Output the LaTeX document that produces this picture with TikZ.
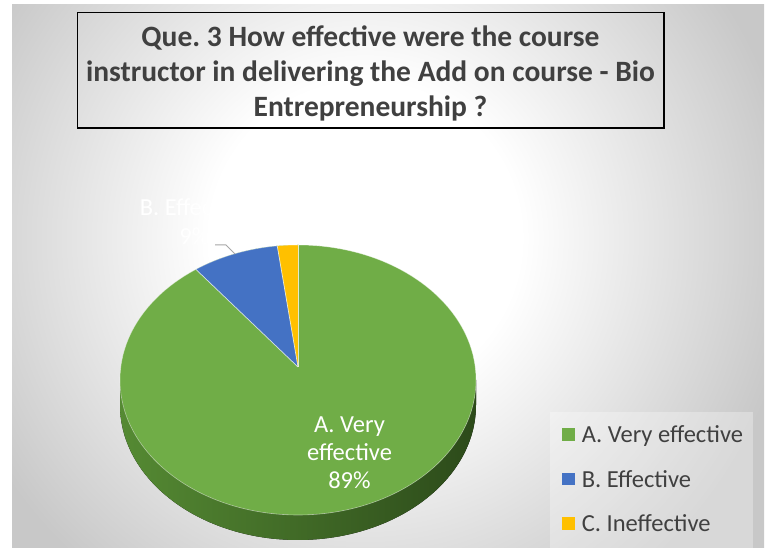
\documentclass[tikz,border=0pt]{standalone}
\usepackage{fontspec}
\setmainfont{Carlito}
\frenchspacing
\definecolor{bggray}{HTML}{C8C8C8}
\definecolor{titlegray}{HTML}{404040}
\definecolor{leggray}{HTML}{404040}
\definecolor{pgreen}{HTML}{70AD47}
\definecolor{pblue}{HTML}{4472C4}
\definecolor{pyellow}{HTML}{FFC000}
\definecolor{sidelight}{HTML}{558A33}
\definecolor{sidemid}{HTML}{2F501C}
\definecolor{sidedark}{HTML}{2C4A1A}
\definecolor{leadergray}{HTML}{A6A6A6}
\pgfdeclareradialshading{bgshade}{\pgfpoint{0bp}{0bp}}{color(0bp)=(white); color(155bp)=(white); color(430bp)=(bggray); color(800bp)=(bggray)}
\begin{document}
\frenchspacing
\begin{tikzpicture}[x=1pt,y=1pt,
  titletext/.style={inner sep=0pt, anchor=base, text=titlegray, font=\fontsize{29.5}{34}\selectfont\bfseries},
  slicelabel/.style={inner sep=0pt, anchor=base, text=white, font=\fontsize{24.5}{28}\selectfont},
  legtext/.style={inner sep=0pt, anchor=base west, text=leggray, font=\fontsize{24.5}{28}\selectfont},
  legsq/.style={minimum size=12.5pt, inner sep=0pt, draw=none},
  sepline/.style={draw=white, draw opacity=0.75, line width=0.7pt},
  leaderline/.style={draw=leadergray, line width=1pt},
  pieell/.style={x radius=178, y radius=135}]
\useasboundingbox (0,0) rectangle (772,548);
\fill[white] (0,0) rectangle (772,548);
% chart area background
\begin{scope}
  \clip (12,0) rectangle (764,543);
  \fill[bggray] (12,0) rectangle (764,543);
  \node[inner sep=0pt, outer sep=0pt] (bgshadenode) at (365,310) {\pgfuseshading{bgshade}};
\end{scope}
% title box
\node[draw=black, line width=1.6pt, minimum width=586.5pt, minimum height=115.5pt, inner sep=0pt] (titlebox) at (370.75,477.7) {};
\node[titletext] (t1) at (370.5,501.3) {Que. 3 How effective were the course};
\node[titletext] (t2) at (370.5,466.3) {instructor in delivering the Add on course - Bio};
\node[titletext] (t3) at (370.5,431.3) {Entrepreneurship ?};
% pie side
\coordinate (pc) at (298,168);
\coordinate (apex) at (298,181);
\fill[left color=sidelight, middle color=sidemid, right color=sidedark]
  (120,168) arc[start angle=180, end angle=360, pieell] -- ++(0,-25)
  arc[start angle=360, end angle=180, pieell] -- cycle;
% top face
\fill[pgreen] (pc) ellipse [pieell];
\fill[pblue] (apex) -- ([shift={(298,168)}]125:178 and 135) arc[start angle=125, end angle=96.7, pieell] -- cycle;
\fill[pyellow] (apex) -- ([shift={(298,168)}]96.7:178 and 135) arc[start angle=96.7, end angle=90, pieell] -- cycle;
\coordinate (bAB) at ([shift={(298,168)}]125:178 and 135);
\coordinate (bBC) at ([shift={(298,168)}]96.7:178 and 135);
\coordinate (bCA) at ([shift={(298,168)}]90:178 and 135);
\draw[sepline] (apex) -- (bAB);
\draw[sepline] (apex) -- (bBC);
\draw[sepline] (apex) -- (bCA);
\draw[draw=white, draw opacity=0.45, line width=0.6pt] (pc) ellipse [pieell];
% slice labels
\node[slicelabel] (la1) at (349.5,115.7) {A. Very};
\node[slicelabel] (la2) at (349.5,87.7) {effective};
\node[slicelabel] (la3) at (349.5,59.7) {89\%};
\node[slicelabel] (lb1) at (194.4,332) {B. Effective};
\node[slicelabel] (lb2) at (194.4,303) {9\%};
% leader line
\coordinate (ld1) at (215,303);
\coordinate (ld2) at (226,303);
\coordinate (ld3) at (235,294);
\draw[leaderline] (ld1) -- (ld2) -- (ld3);
% legend
\fill[white, opacity=0.3] (550,0) rectangle (753,136);
\node[legsq, fill=pgreen] (sqA) at (568.5,113.5) {};
\node[legsq, fill=pblue] (sqB) at (568.5,69) {};
\node[legsq, fill=pyellow] (sqC) at (568.5,24.5) {};
\node[legtext] (legA) at (581.7,105.7) {A. Very effective};
\node[legtext] (legB) at (581.7,60.7) {B. Effective};
\node[legtext] (legC) at (581.7,16.7) {C. Ineffective};
\end{tikzpicture}
\end{document}
